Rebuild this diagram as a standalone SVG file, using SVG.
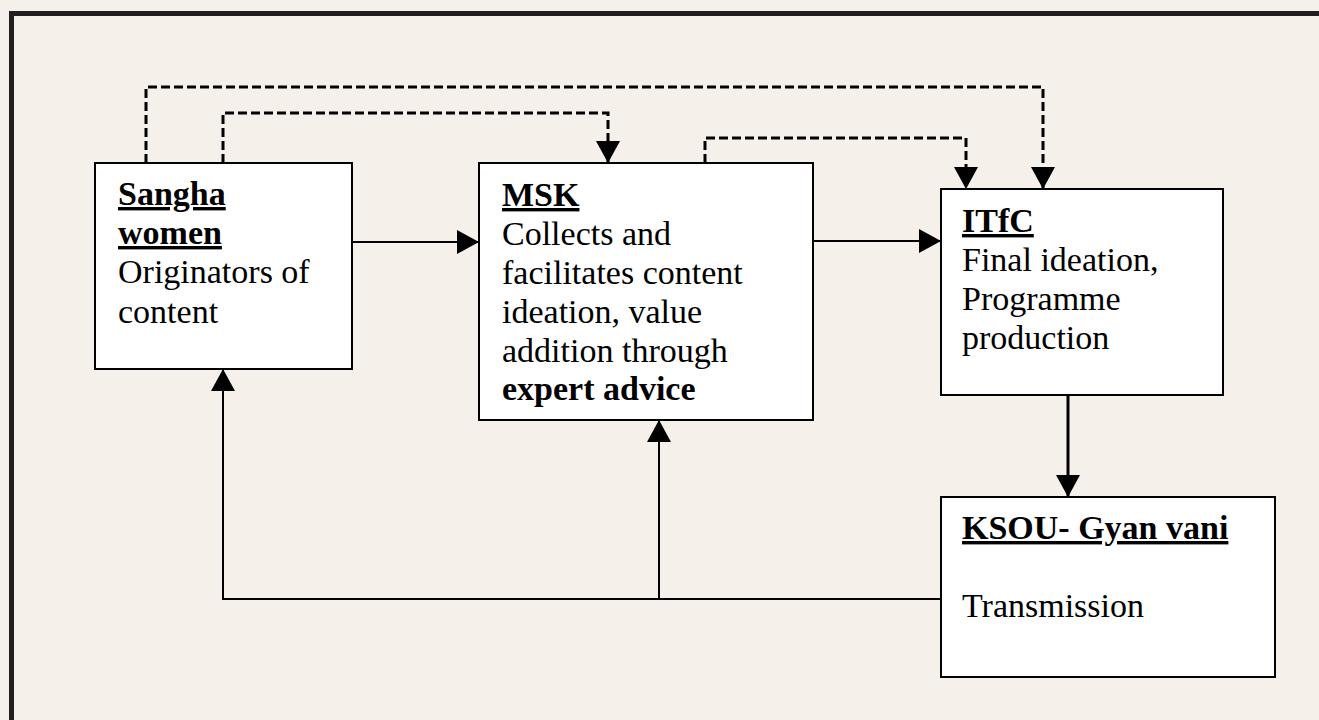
<svg xmlns="http://www.w3.org/2000/svg" width="1319" height="720" viewBox="0 0 1319 720">
<defs>
<style>
.box{fill:#fff;stroke:#000;stroke-width:2}
.t{font-family:"Liberation Serif","Times New Roman",serif;font-size:34px;fill:#000}
.h{font-weight:bold;text-decoration:underline}
.b{font-weight:bold}
.solid{fill:none;stroke:#000;stroke-width:2}
.thick{fill:none;stroke:#000;stroke-width:3}
.dash{fill:none;stroke:#000;stroke-width:3;stroke-dasharray:9 4}
</style>
<marker id="ah" markerUnits="userSpaceOnUse" markerWidth="24" markerHeight="24" refX="22" refY="12" orient="auto">
<path d="M0,0 L22,12 L0,24 Z" fill="#000"/>
</marker>
</defs>
<rect x="0" y="0" width="1319" height="720" fill="#f5f0ea"/>
<rect x="11.5" y="13.5" width="1400" height="800" fill="none" stroke="#231f20" stroke-width="5"/>

<g id="connectors">
<path class="dash" d="M146,163 V87 H1043 V189" marker-end="url(#ah)"/>
<path class="dash" d="M223,163 V113 H608 V163" marker-end="url(#ah)"/>
<path class="dash" d="M705,163 V138 H966 V189" marker-end="url(#ah)"/>
<path class="solid" d="M352,242 H479" marker-end="url(#ah)"/>
<path class="solid" d="M813,241 H941" marker-end="url(#ah)"/>
<path class="thick" d="M1068,395 V497" marker-end="url(#ah)"/>
<path class="solid" d="M941,599 H223 V369" marker-end="url(#ah)"/>
<path class="solid" d="M659,599 V420" marker-end="url(#ah)"/>
</g>

<g id="sangha">
<rect class="box" x="95" y="163" width="257" height="206"/>
<text class="t h" x="118" y="205">Sangha</text>
<text class="t h" x="118" y="244">women</text>
<text class="t" x="118" y="283">Originators of</text>
<text class="t" x="118" y="323">content</text>
</g>

<g id="msk">
<rect class="box" x="479" y="163" width="334" height="257"/>
<text class="t h" x="502" y="206">MSK</text>
<text class="t" x="502" y="245">Collects and</text>
<text class="t" x="502" y="284">facilitates content</text>
<text class="t" x="502" y="323">ideation, value</text>
<text class="t" x="502" y="362">addition through</text>
<text class="t b" x="502" y="400">expert advice</text>
</g>

<g id="itfc">
<rect class="box" x="941" y="189" width="282" height="206"/>
<text class="t h" x="962" y="232">ITfC</text>
<text class="t" x="962" y="271">Final ideation,</text>
<text class="t" x="962" y="310">Programme</text>
<text class="t" x="962" y="349">production</text>
</g>

<g id="ksou">
<rect class="box" x="941" y="497" width="334" height="180"/>
<text class="t h" x="962" y="539">KSOU- Gyan vani</text>
<text class="t" x="962" y="617">Transmission</text>
</g>
</svg>
